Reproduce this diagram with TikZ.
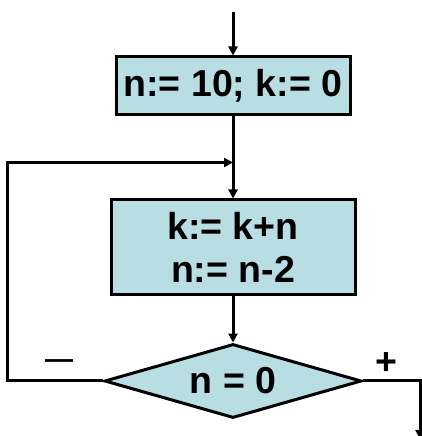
\documentclass[tikz,border=0pt]{standalone}
\usepackage{fontspec}
\setmainfont{Liberation Sans}
\usetikzlibrary{shapes,arrows.meta,positioning,calc}

\definecolor{boxfill}{RGB}{184,222,228}

\begin{document}
\begin{tikzpicture}[
        x=1pt, y=1pt,
        node distance=46pt,
        action/.style={
            rectangle, draw=black, line width=3pt, fill=boxfill,
            minimum width=240pt, inner sep=0pt, align=center,
            font=\fontsize{37.5}{43}\selectfont\bfseries
        },
        decision/.style={
            diamond, draw=black, line width=3pt, fill=boxfill,
            minimum width=257pt, minimum height=74pt, aspect=3.5, inner sep=0pt,
            font=\fontsize{37.5}{43}\selectfont\bfseries
        },
        sign/.style={font=\fontsize{37.5}{43}\selectfont\bfseries, inner sep=0pt},
        arr/.style={-{Triangle[length=9pt,width=9pt]}, line width=3pt, draw=black},
        ln/.style={line width=3pt, draw=black}
    ]
    \useasboundingbox (0,0) rectangle (422,436);

    % Boxes
    \coordinate (start) at (233,424);
    \node[action, minimum width=234pt, minimum height=58pt] (init) at (233,350) {n:= 10; k:= 0};
    \node[action, minimum width=244pt, minimum height=95pt, below=82pt of init] (body) {k:= k+n\\n:= n-2};
    \node[decision, below=of body] (cond) {n = 0};

    % Helper points
    \coordinate[below=46pt of init] (join);
    \coordinate[left=96pt of cond] (back);
    \coordinate[right=57pt of cond] (yes);
    \coordinate[below=58pt of yes] (exit);

    % Arrows down the middle
    \draw[arr] (start) -- (init);
    \draw[arr] (init) -- (body);
    \draw[arr] (body) -- (cond);

    % Loop back and exit
    \draw[arr] (cond.west) -- (back) |- (join);
    \draw[arr] (cond.east) -- (yes) -- (exit);

    % Branch signs
    \node[sign] (minus) at ([shift={(-44,17)}]cond.west) {{\fontsize{28}{32}\selectfont —}};
    \node[sign] (plus) at ([shift={(23,17)}]cond.east) {+};
    \end{tikzpicture}
\end{document}
